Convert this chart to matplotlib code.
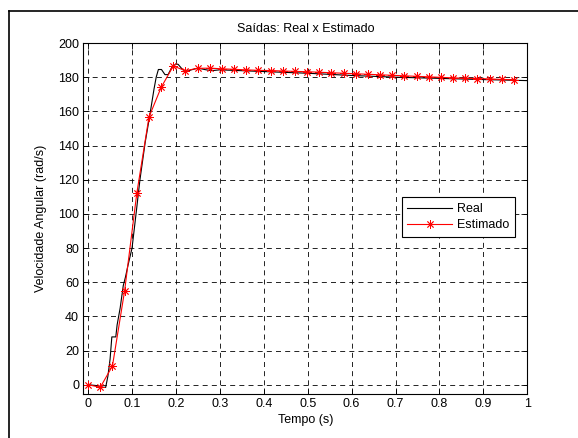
import matplotlib
matplotlib.use("Agg")
import matplotlib.pyplot as plt
from matplotlib.lines import Line2D
import numpy as np

plt.rcParams['font.family'] = ['Liberation Sans', 'DejaVu Sans']

# Real (measured) output
t_real = [0.0, 0.02, 0.035, 0.04, 0.045, 0.05, 0.054, 0.063, 0.066, 0.073, 0.08,
          0.085, 0.09, 0.1, 0.11, 0.118, 0.13, 0.14, 0.15, 0.155, 0.16, 0.167,
          0.175, 0.182, 0.19, 0.2, 0.205, 0.215, 0.225, 0.235, 0.25, 0.265,
          0.28, 0.3, 0.35, 0.4, 0.5, 0.6, 0.7, 0.8, 0.9, 1.0]
y_real = [0.0, -0.5, -1.5, -1.5, 5, 15, 28, 28, 35, 45, 58,
          63, 69, 80, 102, 120, 142, 157, 173, 180, 184.5, 184.5,
          181.5, 181.5, 185.5, 187.8, 187.5, 184.5, 183.3, 184.3, 185.3, 184.5,
          183.8, 184.3, 183.8, 183.3, 182.3, 181.0, 180.0, 179.3, 178.6, 178.0]

# Estimated output (sampled points)
t_est = [0.0, 0.0277, 0.0554, 0.0831, 0.1108, 0.1385, 0.1662, 0.1939, 0.2216,
         0.2493, 0.277, 0.3047, 0.3324, 0.3601, 0.3878, 0.4155, 0.4432, 0.4709,
         0.4986, 0.5263, 0.554, 0.5817, 0.6094, 0.6371, 0.6648, 0.6925, 0.7202,
         0.7479, 0.7756, 0.8033, 0.831, 0.8587, 0.8864, 0.9141, 0.9418, 0.9695]
y_est = [0.0, -1.5, 11, 55, 112, 156.6, 174, 186.5, 183.8,
         185.2, 185.3, 184.9, 184.6, 184.3, 184.0, 183.9, 183.6, 183.4,
         183.2, 182.9, 182.6, 182.3, 182.0, 181.7, 181.4, 181.1, 180.8,
         180.5, 180.2, 179.9, 179.6, 179.4, 179.2, 179.0, 178.7, 178.5]

x_ticks = [0, 0.1, 0.2, 0.3, 0.4, 0.5, 0.6, 0.7, 0.8, 0.9, 1]
x_ticklabels = ['0', '0.1', '0.2', '0.3', '0.4', '0.5', '0.6', '0.7', '0.8', '0.9', '1']
y_ticks = [0, 20, 40, 60, 80, 100, 120, 140, 160, 180, 200]

fig = plt.figure(figsize=(5.78, 4.38), dpi=100)
ax = fig.add_axes([0.1441, 0.1005, 0.9123 - 0.1441, 0.9018 - 0.1005])

ax.plot(t_real, y_real, color='k', lw=0.8, label='Real')
ax.plot(t_est, y_est, color='red', lw=0.8, marker=(8, 2, 0), markersize=6,
        markeredgewidth=0.6, markeredgecolor='red', label='Estimado')

ax.set_xlim(-0.011, 1)
ax.set_ylim(-5.4, 200)
ax.set_xticks(x_ticks)
ax.set_xticklabels(x_ticklabels)
ax.set_yticks(y_ticks)
ax.tick_params(direction='in', top=True, right=True, labelsize=9, length=4, width=0.6, pad=3)
ax.grid(True, color='k', linestyle=(0, (6, 5)), linewidth=0.6)
for s in ax.spines.values():
    s.set_linewidth(0.8)

ax.set_title('Saídas: Real x Estimado', fontsize=9, pad=8)
ax.set_xlabel('Tempo (s)', fontsize=9, labelpad=3)
ax.set_ylabel('Velocidade Angular (rad/s)', fontsize=9, labelpad=8)

leg = ax.legend(loc='upper left', bbox_to_anchor=(0.717, 0.560), fontsize=9,
                fancybox=False, edgecolor='k', framealpha=1, borderaxespad=0,
                handlelength=3.6, handletextpad=0.4, borderpad=0.45, labelspacing=0.35)
leg.get_frame().set_linewidth(0.8)

# figure border (left and top visible)
fig.add_artist(Line2D([8.5 / 578, 8.5 / 578], [0, 1 - 10.5 / 438], transform=fig.transFigure, color='k', lw=1.2))
fig.add_artist(Line2D([8.5 / 578, 1], [1 - 10.5 / 438, 1 - 10.5 / 438], transform=fig.transFigure, color='k', lw=1.2))

fig.savefig('out.png', dpi=100)
